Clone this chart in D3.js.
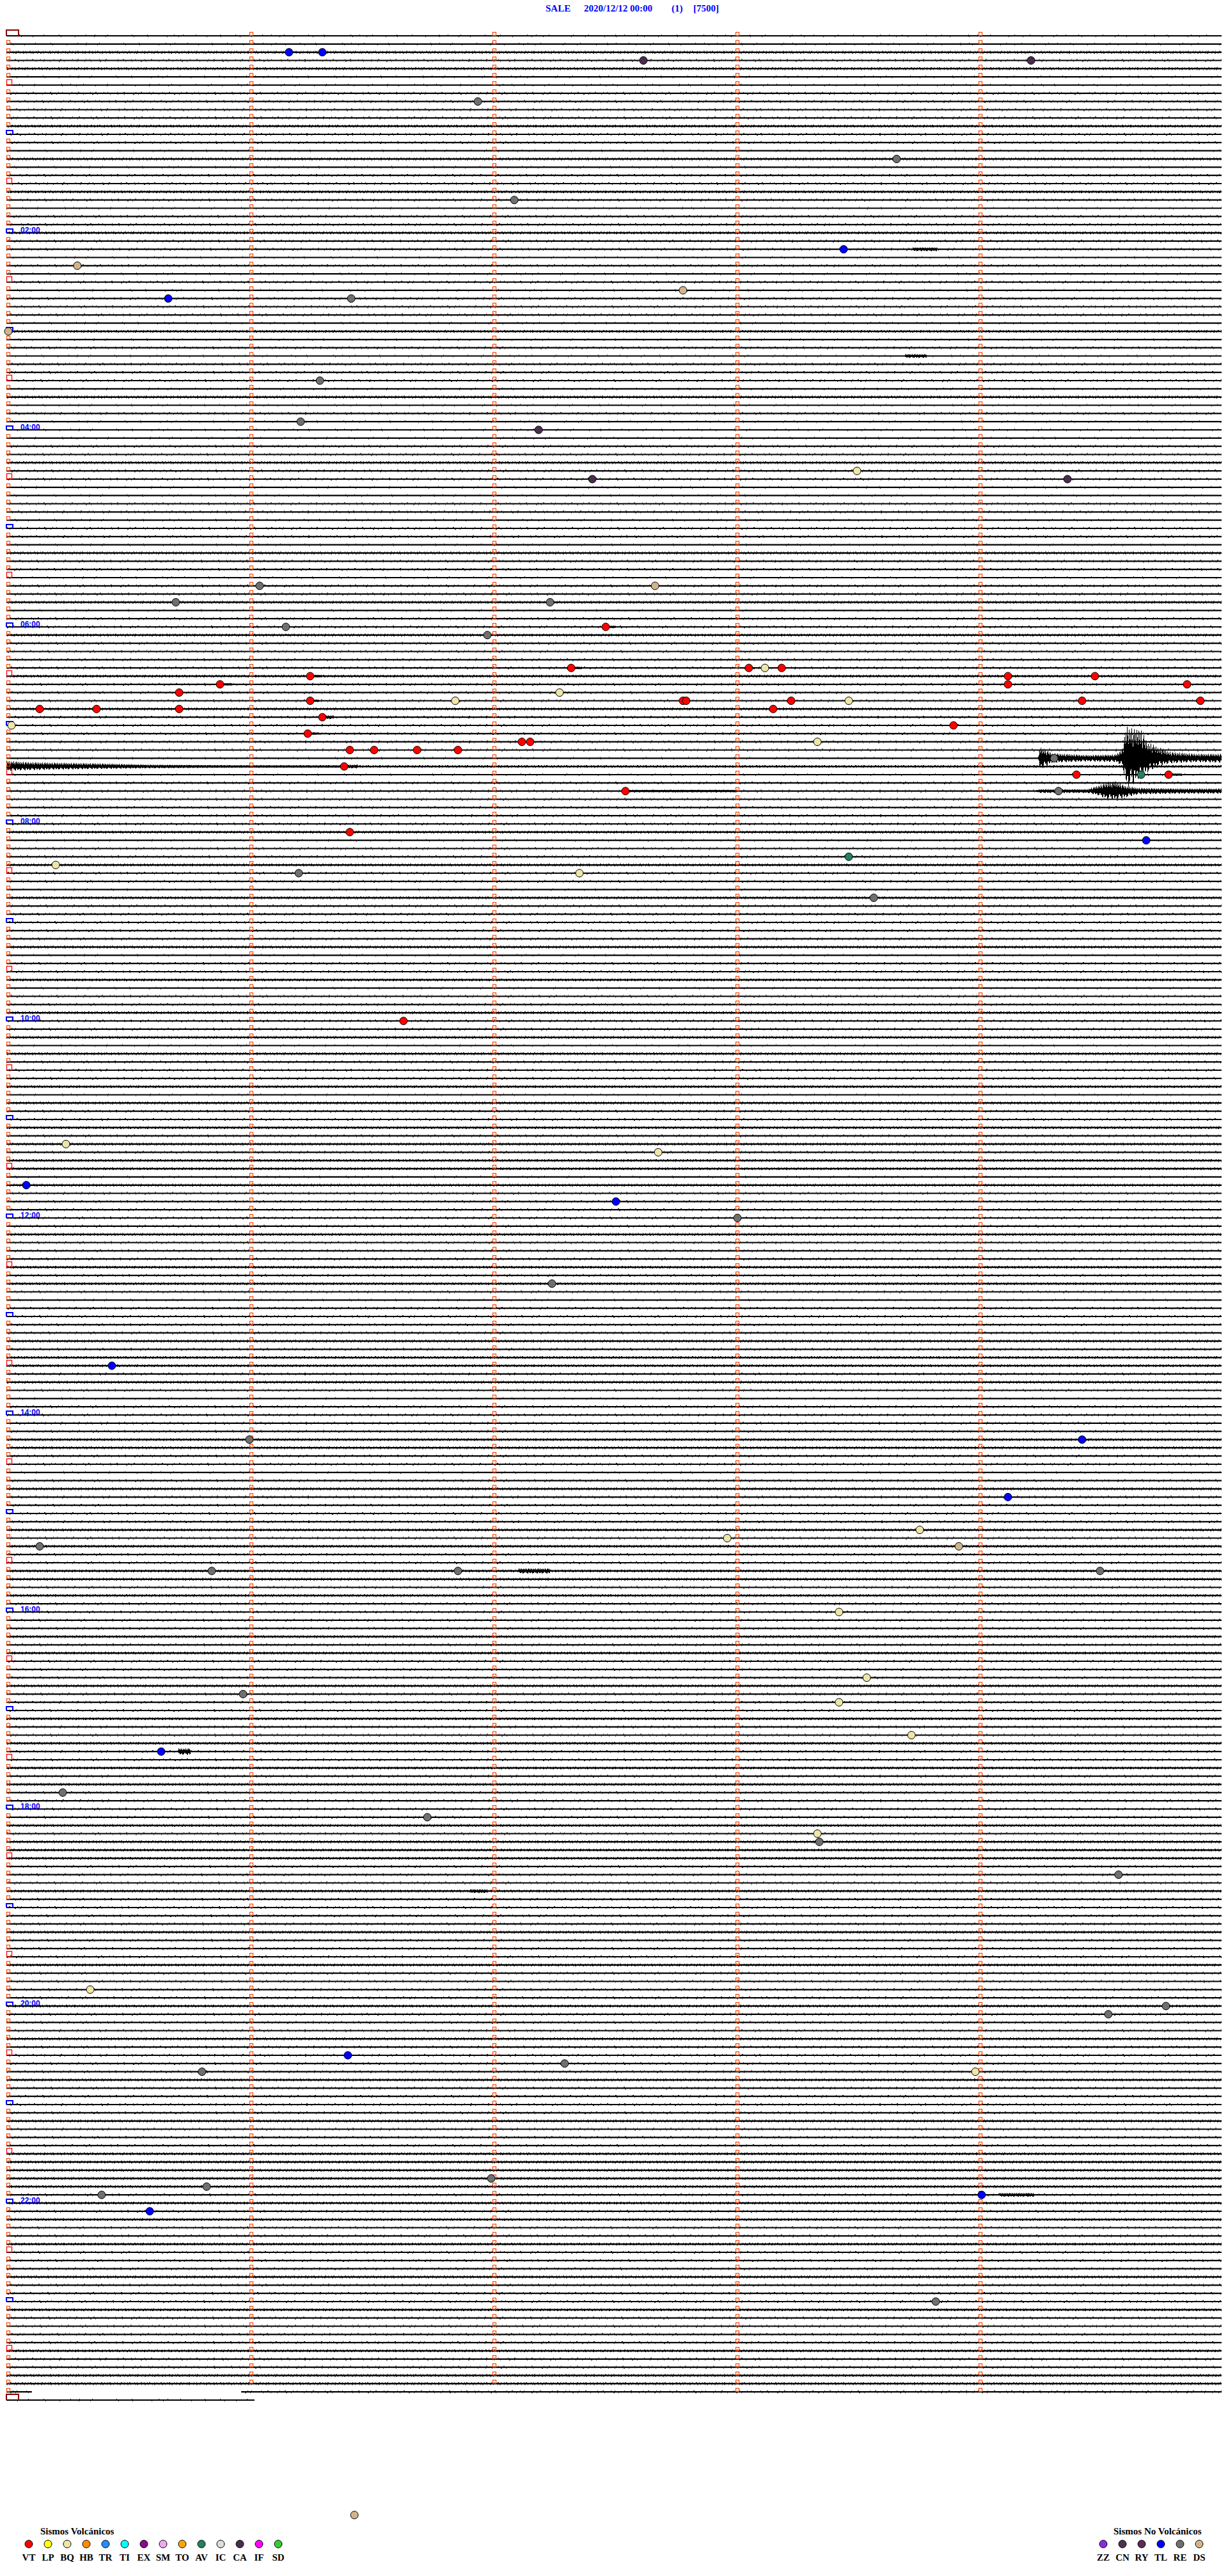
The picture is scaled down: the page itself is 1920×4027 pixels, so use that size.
<!DOCTYPE html>
<html>
<head>
<meta charset="utf-8">
<script src="https://cdn.jsdelivr.net/npm/d3@7"></script>
<style>
  body { margin: 0; background: #fff; }
  svg { display: block; }
  .title { font-family: "Liberation Serif", "Times New Roman", serif; font-size: 15px; font-weight: bold; fill: #0000ff; }
  .hour { font-family: "Liberation Sans", Arial, sans-serif; font-size: 12px; font-weight: bold; fill: #0000ff; }
  .leg { font-family: "Liberation Serif", "Times New Roman", serif; font-size: 15px; font-weight: bold; fill: #000; }
</style>
</head>
<body>
<div class="chart"></div>
<script>
// DATA ------------------------------------

const station = "SALE";
const stamp = "2020/12/12 00:00";
const page = "(1)";
const scaleTxt = "[7500]";

// 5 minutes per trace, 288 traces + closing trace
const nLines = 288;
const hourLabels = ["02:00","04:00","06:00","08:00","10:00","12:00","14:00","16:00","18:00","20:00","22:00"];

// legend
const volcTypes  = ["VT","LP","BQ","HB","TR","TI","EX","SM","TO","AV","IC","CA","IF","SD"];
const volcColors = ["#ff0000","#ffff00","#eee6a8","#ff8c00","#1e8fff","#00ffff","#8b0a8b","#eeaaee","#ffa500","#24805e","#dcdcdc","#4a2c4e","#ff00ff","#32cd32"];
const noVolcTypes  = ["ZZ","CN","RY","TL","RE","DS"];
const noVolcColors = ["#8a2be2","#4d3350","#5a2c58","#0000ff","#6f6f6f","#d2b48c"];

// trace noise level per trace (0 quiet .. 3 noisy), one string per hour
const noiseRows = [
  "113231022223","221312232122","322121202221","312122213121",
  "112232211221","221322122312","232222322232","222213122222",
  "231223221322","222312231223","223132223132","232323313222",
  "223222323212","222323323212","222332212322","223232233232",
  "222323222322","232232232322","223233322232","222322232222",
  "322232222322","223222333332","323223222322","232222322332","1"
];

// trace pieces that differ from a full trace: [line, [start, end] minutes ...]
const traceGaps = [
  [287, [[-0.008, 0.097], [0.958, 4.992]]],
  [288, [[-0.008, 1.013]]]
];

// event markers: [line, minute, type]
const events = [
  [2,1.155,"TL"],[2,1.292,"TL"],[3,2.613,"CA"],[3,4.208,"CA"],[8,1.932,"RE"],
  [15,3.655,"RE"],[20,2.082,"RE"],[26,3.437,"TL"],[28,0.284,"DS"],[31,2.776,"DS"],
  [32,0.658,"TL"],[32,1.411,"RE"],[36,0.0,"DS"],[42,1.282,"RE"],[47,1.203,"RE"],
  [48,2.182,"CA"],[53,3.492,"BQ"],[54,2.403,"CA"],[54,4.358,"CA"],[67,1.034,"RE"],
  [67,2.661,"DS"],[69,0.689,"RE"],[69,2.229,"RE"],[72,1.142,"RE"],[73,1.971,"RE"],
  [72,2.458,"VT"],[77,2.316,"VT"],[77,3.047,"VT"],[77,3.113,"BQ"],[77,3.182,"VT"],
  [78,4.113,"VT"],[78,4.471,"VT"],[78,1.242,"VT"],[79,0.871,"VT"],[80,2.268,"BQ"],
  [79,4.113,"VT"],[79,4.850,"VT"],[80,0.703,"VT"],[81,1.839,"BQ"],[81,1.242,"VT"],
  [81,2.776,"VT"],[81,2.789,"VT"],[81,3.221,"VT"],[81,3.458,"BQ"],[81,4.418,"VT"],
  [81,4.905,"VT"],[82,0.129,"VT"],[82,0.363,"VT"],[82,0.703,"VT"],[82,3.147,"VT"],
  [83,1.292,"VT"],[84,0.013,"BQ"],[85,1.232,"VT"],[86,2.113,"VT"],[86,2.147,"VT"],
  [86,3.329,"BQ"],[84,3.889,"VT"],[87,1.405,"VT"],[87,1.505,"VT"],[87,1.682,"VT"],
  [87,1.850,"VT"],[89,1.382,"VT"],[90,4.395,"VT"],[90,4.774,"VT"],[90,4.661,"AV"],
  [88,4.303,"RE"],[92,4.321,"RE"],[92,2.539,"VT"],[97,1.405,"VT"],[98,4.682,"TL"],
  [101,0.195,"BQ"],[100,3.458,"AV"],[102,1.195,"RE"],[102,2.350,"BQ"],[105,3.561,"RE"],
  [120,1.626,"VT"],[135,0.237,"BQ"],[136,2.674,"BQ"],[140,0.074,"TL"],[142,2.500,"TL"],
  [144,3.000,"RE"],[152,2.237,"RE"],[162,0.426,"TL"],[171,0.992,"RE"],[171,4.418,"TL"],
  [178,4.113,"TL"],[184,0.129,"RE"],[183,2.958,"BQ"],[182,3.750,"BQ"],[184,3.911,"DS"],
  [187,0.837,"RE"],[187,1.850,"RE"],[187,4.492,"RE"],[192,3.418,"BQ"],[200,3.532,"BQ"],
  [202,0.966,"RE"],[203,3.418,"BQ"],[207,3.716,"BQ"],[209,0.629,"TL"],[214,0.224,"RE"],
  [217,1.724,"RE"],[219,3.329,"BQ"],[220,3.337,"RE"],[224,4.568,"RE"],[238,0.337,"BQ"],
  [241,4.526,"RE"],[240,4.763,"RE"],[246,1.397,"TL"],[248,0.797,"RE"],[247,2.289,"RE"],
  [248,3.979,"BQ"],[261,1.987,"RE"],[262,0.816,"RE"],[263,0.384,"RE"],[263,4.005,"TL"],
  [265,0.582,"TL"],[276,3.816,"RE"],[302,1.424,"DS"]
];

// short bursts: [line, start, end, amplitude px]
const bursts = [
  [26,3.72,3.82,3],[39,3.69,3.78,3],[92,2.54,3.0,2],[187,2.10,2.23,4],
  [209,0.70,0.75,5],[226,1.90,1.97,3],[263,4.08,4.22,3],
  [72,2.47,2.50,2],[77,2.33,2.36,2],[78,1.26,1.29,2],[79,0.885,0.92,2],
  [81,1.255,1.28,2],[83,1.305,1.34,3],[85,1.245,1.28,2],[89,1.395,1.44,3],[90,4.79,4.83,2]
];

// envelopes of the large event: [minute, up px, down px]
const env88 = [[4.237,0,0],[4.245,18,17],[4.295,8,7],[4.439,5,5],[4.558,6,6],[4.584,15,12],
  [4.603,52,47],[4.629,45,40],[4.655,48,30],[4.689,25,22],[4.729,18,12],[4.782,10,8],[4.887,7,6],[4.992,7,7]];
const env89 = [[-0.008,9,7],[0.071,7,6],[0.176,6,5],[0.361,5,4],[0.571,3,3],[0.887,2,2],[1.282,1,1],[1.387,0,0]];
const env92 = [[4.229,0,0],[4.242,3,3],[4.439,3,3],[4.479,8,6],[4.518,13,12],[4.558,15,13],[4.597,8,10],
  [4.650,5,5],[4.834,4,4],[4.992,4,4]];

// CHART -----------------------------------

const W = 1920, H = 4027;
const svg = d3.select(".chart").append("svg")
  .attr("width", W).attr("height", H);

const x = d3.scaleLinear().domain([0, 5]).range([13, 1913]);
const y = d3.scaleLinear().domain([0, nLines]).range([56, 3752]);

const noise = noiseRows.join("").split("").map(Number);
const typeColor = {};
volcTypes.forEach((t, i) => typeColor[t] = volcColors[i]);
noVolcTypes.forEach((t, i) => typeColor[t] = noVolcColors[i]);

// title
const tg = svg.append("g").attr("class", "title");
tg.append("text").attr("x", 853).attr("y", 18).text(station);
tg.append("text").attr("x", 913).attr("y", 18).text(stamp);
tg.append("text").attr("x", 1050).attr("y", 18).text(page);
tg.append("text").attr("x", 1084).attr("y", 18).text(scaleTxt);

// traces
const dashes = [
  null,
  ["1 19 1 37 1 23 1 41 1 13", "1 29 1 17 1 43 1 21"],
  ["1 7 2 11 1 5 1 14 1 9 2 17", "1 9 1 13 2 6 1 19 1 11"],
  ["2 3 1 4 1 2 2 6 1 3 1 5", "1 4 2 3 1 6 1 2 2 5"]
];

const lines = d3.range(nLines + 1).map(i => {
  const g = traceGaps.find(d => d[0] === i);
  return { i, lvl: noise[i] || 1, pieces: g ? g[1] : [[-0.008, 4.992]] };
});

const traces = svg.append("g").attr("class", "traces");
lines.forEach(l => {
  const yy = y(l.i);
  l.pieces.forEach(p => {
    const x0 = x(p[0]), x1 = x(p[1]);
    traces.append("line")
      .attr("x1", x0).attr("x2", x1).attr("y1", yy).attr("y2", yy)
      .attr("stroke", "#000")
      .attr("stroke-width", l.lvl === 3 ? 2.5 : (l.lvl === 0 ? 1.5 : 2.1));
    if (l.lvl > 0) {
      const dd = dashes[l.lvl];
      [[-1.6, dd[0]], [1.6, dd[1]]].forEach((o, k) => {
        traces.append("line")
          .attr("x1", x0).attr("x2", x1).attr("y1", yy + o[0]).attr("y2", yy + o[0])
          .attr("stroke", "#000").attr("stroke-width", 1)
          .attr("stroke-dasharray", o[1])
          .attr("stroke-dashoffset", (l.i * 13 + k * 7) % 40);
      });
    }
  });
});

// spiky drawing of an envelope: vertical strokes every px,
// heights follow the envelope and a fixed jagged shape
const jag = [1, 0.6, 0.85, 0.5, 0.95, 0.7, 0.45, 0.9, 0.6, 0.8, 0.5, 1, 0.65, 0.4, 0.8];
function spikes(line, env) {
  const up = d3.scaleLinear().domain(env.map(d => x(d[0]))).range(env.map(d => d[1])).clamp(true);
  const dn = d3.scaleLinear().domain(env.map(d => x(d[0]))).range(env.map(d => d[2])).clamp(true);
  const yy = y(line);
  const xs = d3.range(Math.round(x(env[0][0])) + 0.5, x(env[env.length - 1][0]), 1);
  let d = "";
  xs.forEach((px, k) => {
    const a = jag[k % jag.length], b = jag[(k * 7 + 3) % jag.length];
    d += `M${px},${yy - Math.max(1.5, up(px) * a)}V${yy + Math.max(1.5, dn(px) * b)}`;
  });
  traces.append("path").attr("d", d)
    .attr("stroke", "#000").attr("stroke-width", 1).attr("fill", "none");
}

bursts.forEach(b => spikes(b[0], [[b[1], b[3], b[3]], [b[2], b[3], b[3]]]));
spikes(88, env88);
spikes(89, env89);
spikes(92, env92);

// minute ticks (small open squares)
const ticks = svg.append("g").attr("class", "ticks");
lines.forEach(l => {
  const yy = y(l.i);
  d3.range(0, 5).forEach(m => {
    if (m === 0 && (l.i % 6 === 0)) return;
    if (l.i === nLines && m > 0) return;
    if (l.i === nLines - 1 && (m === 1 || m === 2)) return;
    ticks.append("rect")
      .attr("x", x(m) - 2.5).attr("y", yy - 5.5)
      .attr("width", 5).attr("height", 5)
      .attr("fill", "none").attr("stroke", "#ff4500").attr("stroke-width", 1.2);
  });
});

// half hour squares, hour brackets, day brackets
lines.forEach(l => {
  const yy = y(l.i);
  if (l.i === 0 || l.i === nLines) {
    ticks.append("path")
      .attr("d", `M${x(0) - 3},${yy} V${yy - 9} H${x(0) + 16} V${yy}`)
      .attr("fill", "none").attr("stroke", "#8b0000").attr("stroke-width", 2);
  } else if (l.i % 12 === 0) {
    ticks.append("path")
      .attr("d", `M${x(0) - 3},${yy} V${yy - 6} H${x(0) + 7} V${yy}`)
      .attr("fill", "none").attr("stroke", "#0000ff").attr("stroke-width", 2);
  } else if (l.i % 6 === 0) {
    ticks.append("rect")
      .attr("x", x(0) - 2.5).attr("y", yy - 8.5)
      .attr("width", 8).attr("height", 8)
      .attr("fill", "none").attr("stroke", "#ff0000").attr("stroke-width", 1.3);
  }
});

svg.append("g").selectAll("text")
  .data(hourLabels)
  .join("text")
  .attr("class", "hour")
  .attr("x", 32)
  .attr("y", (d, i) => y((i + 1) * 24) - 0.5)
  .text(d => d);

// event markers
svg.append("g").selectAll("circle")
  .data(events)
  .join("circle")
  .attr("cx", d => x(d[1]))
  .attr("cy", d => y(d[0]))
  .attr("r", 6)
  .attr("fill", d => typeColor[d[2]])
  .attr("stroke", "#000")
  .attr("stroke-width", 1);

// legends
function legend(types, colors, title, titleX, x0) {
  const g = svg.append("g");
  g.append("text").attr("class", "leg").attr("x", titleX).attr("y", 3962).text(title);
  types.forEach((t, i) => {
    const cx = x0 + i * 30;
    g.append("circle").attr("cx", cx).attr("cy", 3977).attr("r", 6)
      .attr("fill", colors[i]).attr("stroke", "#000").attr("stroke-width", 1);
    g.append("text").attr("class", "leg").attr("x", cx).attr("y", 4003)
      .attr("text-anchor", "middle").text(t);
  });
}
legend(volcTypes, volcColors, "Sismos Volcánicos", 63, 45);
legend(noVolcTypes, noVolcColors, "Sismos No Volcánicos", 1741, 1725);
</script>
</body>
</html>
